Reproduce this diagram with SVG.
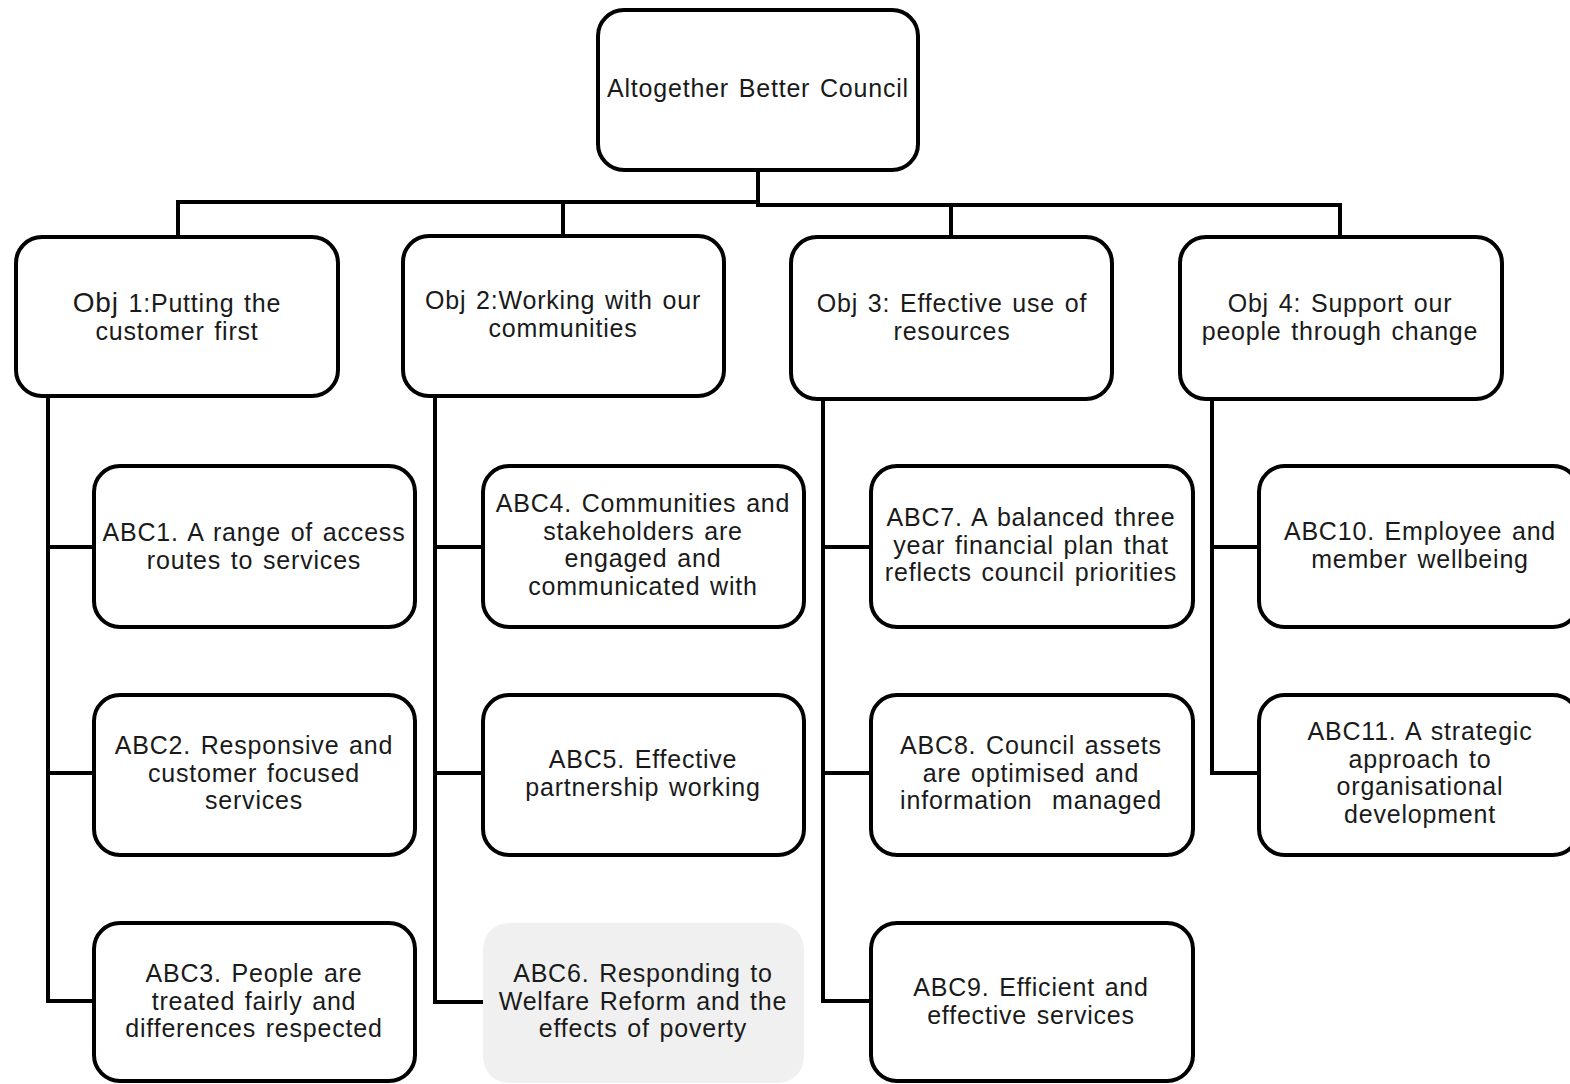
<svg xmlns="http://www.w3.org/2000/svg" width="1570" height="1084" viewBox="0 0 1570 1084">
<style>
.box{fill:#fff;stroke:#000;stroke-width:4}
.grey{fill:#f0f0f0;stroke:none}
.ln{fill:none;stroke:#000;stroke-width:4}
text{font-family:"Liberation Sans",Arial,sans-serif;font-size:25px;letter-spacing:0.8px;word-spacing:2px;fill:#1a1a1a;text-anchor:middle}
</style>
<rect width="1570" height="1084" fill="#fff"/>
<g id="connectors">
<path class="ln" d="M758 170V203M178 237V202H758M758 203V205H1340V237M563 202V236M951 205V237"/>
<path class="ln" d="M48 396V1001H94M48 547H94M48 773H94"/>
<path class="ln" d="M435 396V1002H483M435 547H483M435 773H483"/>
<path class="ln" d="M823 399V1001H871M823 547H871M823 773H871"/>
<path class="ln" d="M1212 399V773H1259M1212 547H1259"/>
</g>
<g id="root"><rect class="box" x="598" y="10" width="320" height="160" rx="26"/><text x="758" y="97">Altogether Better Council</text></g>
<g id="obj1"><rect class="box" x="16" y="237" width="322" height="159" rx="26"/><text x="177" y="312"><tspan font-size="28">Obj</tspan> 1:Putting the</text><text x="177" y="340">customer first</text></g>
<g id="obj2"><rect class="box" x="403" y="236" width="321" height="160" rx="26"/><text x="563" y="309">Obj 2:Working with our</text><text x="563" y="337">communities</text></g>
<g id="obj3"><rect class="box" x="791" y="237" width="321" height="162" rx="26"/><text x="952" y="312">Obj 3: Effective use of</text><text x="952" y="340">resources</text></g>
<g id="obj4"><rect class="box" x="1180" y="237" width="322" height="162" rx="26"/><text x="1340" y="312">Obj 4: Support our</text><text x="1340" y="340">people through change</text></g>
<g id="abc1"><rect class="box" x="94" y="466" width="321" height="161" rx="26"/><text x="254" y="541">ABC1. A range of access</text><text x="254" y="569">routes to services</text></g>
<g id="abc2"><rect class="box" x="94" y="695" width="321" height="160" rx="26"/><text x="254" y="754">ABC2. Responsive and</text><text x="254" y="782">customer focused</text><text x="254" y="809">services</text></g>
<g id="abc3"><rect class="box" x="94" y="923" width="321" height="158" rx="26"/><text x="254" y="982">ABC3. People are</text><text x="254" y="1010">treated fairly and</text><text x="254" y="1037">differences respected</text></g>
<g id="abc4"><rect class="box" x="483" y="466" width="321" height="161" rx="26"/><text x="643" y="512">ABC4. Communities and</text><text x="643" y="540">stakeholders are</text><text x="643" y="567">engaged and</text><text x="643" y="595">communicated with</text></g>
<g id="abc5"><rect class="box" x="483" y="695" width="321" height="160" rx="26"/><text x="643" y="768">ABC5. Effective</text><text x="643" y="796">partnership working</text></g>
<g id="abc6"><rect class="grey" x="483" y="923" width="321" height="160" rx="26"/><text x="643" y="982">ABC6. Responding to</text><text x="643" y="1010">Welfare Reform and the</text><text x="643" y="1037">effects of poverty</text></g>
<g id="abc7"><rect class="box" x="871" y="466" width="322" height="161" rx="26"/><text x="1031" y="526">ABC7. A balanced three</text><text x="1031" y="554">year financial plan that</text><text x="1031" y="581">reflects council priorities</text></g>
<g id="abc8"><rect class="box" x="871" y="695" width="322" height="160" rx="26"/><text x="1031" y="754">ABC8. Council assets</text><text x="1031" y="782">are optimised and</text><text x="1031" y="809" xml:space="preserve">information  managed</text></g>
<g id="abc9"><rect class="box" x="871" y="923" width="322" height="158" rx="26"/><text x="1031" y="996">ABC9. Efficient and</text><text x="1031" y="1024">effective services</text></g>
<g id="abc10"><rect class="box" x="1259" y="466" width="320" height="161" rx="26"/><text x="1420" y="540">ABC10. Employee and</text><text x="1420" y="568">member wellbeing</text></g>
<g id="abc11"><rect class="box" x="1259" y="695" width="320" height="160" rx="26"/><text x="1420" y="740">ABC11. A strategic</text><text x="1420" y="768">approach to</text><text x="1420" y="795">organisational</text><text x="1420" y="823">development</text></g>
</svg>
